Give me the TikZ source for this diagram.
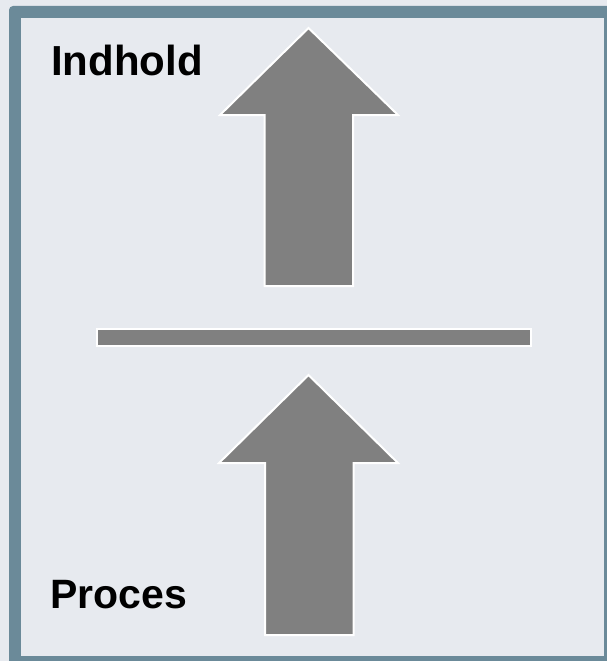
\documentclass[tikz,border=0pt]{standalone}
\usepackage{fontspec}
\setmainfont{Liberation Sans}
\definecolor{bgc}{HTML}{E7EAEF}
\definecolor{framec}{HTML}{6B8A99}
\definecolor{arrowc}{HTML}{808080}
\tikzset{
  shapefill/.style={fill=arrowc, draw=white, line width=2pt, line join=miter},
  label/.style={font=\fontsize{41}{41}\selectfont\bfseries, text=black, inner sep=0pt, anchor=base west}
}
\begin{document}
\begin{tikzpicture}[x=1pt,y=-1pt]
\useasboundingbox (0,0) rectangle (607,661);
\clip (0,0) rectangle (607,661);
\fill[bgc] (0,0) rectangle (607,661);
% frame
\fill[framec, rounded corners=4pt] (9,6) rectangle (620,670);
\fill[bgc] (21,18) rectangle (604,656);
% top arrow
\draw[shapefill] (308.5,28) -- (398,115) -- (353,115) -- (353,286) -- (264.5,286) -- (264.5,115) -- (220,115) -- cycle;
% separator bar
\draw[shapefill] (97,329) rectangle (531,346);
% bottom arrow
\draw[shapefill] (308.5,375) -- (398,463) -- (353.5,463) -- (353.5,635) -- (265,635) -- (265,463) -- (219,463) -- cycle;
% labels
\node[label, font=\fontsize{42}{42}\selectfont\bfseries] (indhold) at (51,76) {Indhold};
\node[label] (proces) at (50,608) {Proces};
\end{tikzpicture}
\end{document}
